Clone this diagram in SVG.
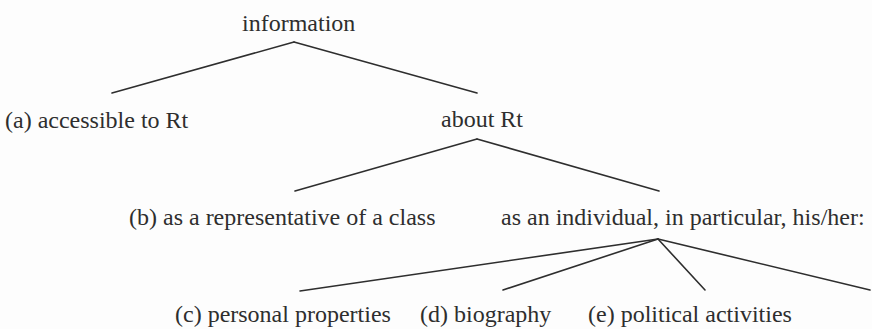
<svg xmlns="http://www.w3.org/2000/svg" width="872" height="329" viewBox="0 0 872 329">
<style>
  .lbl { font-family: "Liberation Serif", "Times New Roman", serif; font-size: 24px; fill: #2e2e2e; }
  .edge { stroke: #2e2e2e; stroke-width: 1.6; fill: none; stroke-linecap: round; }
</style>
<rect width="872" height="329" fill="#fdfdfd"/>
<g id="connectors">
  <line class="edge" x1="294" y1="42" x2="112" y2="93"/>
  <line class="edge" x1="294" y1="42" x2="477" y2="93"/>
  <line class="edge" x1="477" y1="139" x2="295" y2="191"/>
  <line class="edge" x1="477" y1="139" x2="659" y2="191"/>
  <line class="edge" x1="658" y1="239" x2="300" y2="291"/>
  <line class="edge" x1="658" y1="239" x2="503" y2="290"/>
  <line class="edge" x1="658" y1="239" x2="705" y2="290"/>
  <line class="edge" x1="658" y1="239" x2="870" y2="290"/>
</g>
<g id="node-information"><text class="lbl" x="242" y="31">information</text></g>
<g id="node-a"><text class="lbl" x="5" y="128">(a) accessible to Rt</text></g>
<g id="node-about"><text class="lbl" x="441" y="127">about Rt</text></g>
<g id="node-b"><text class="lbl" x="129" y="225">(b) as a representative of a class</text></g>
<g id="node-individual"><text class="lbl" x="501" y="225">as an individual, in particular, his/her:</text></g>
<g id="node-c"><text class="lbl" x="175" y="322">(c) personal properties</text></g>
<g id="node-d"><text class="lbl" x="420" y="322">(d) biography</text></g>
<g id="node-e"><text class="lbl" x="588" y="322">(e) political activities</text></g>
</svg>
